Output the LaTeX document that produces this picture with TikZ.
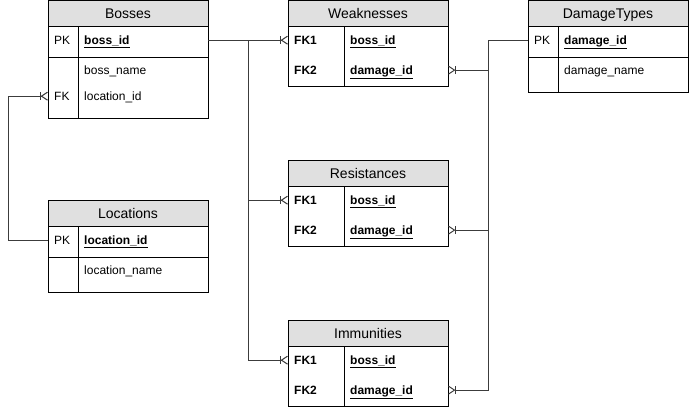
\documentclass[tikz,border=0pt]{standalone}
\usepackage{fontspec}
\setmainfont{Liberation Sans}
\usetikzlibrary{arrows.meta}
\definecolor{headgray}{HTML}{E0E0E0}
\definecolor{linkgray}{HTML}{3C3C3C}
\tikzset{
  entity/.style={draw, line width=1pt, minimum width=160pt, inner sep=0pt, outer sep=0pt, anchor=north west},
  header/.style={entity, fill=headgray, minimum height=26pt, text height=10pt, text depth=0pt, font=\fontsize{14}{16}\selectfont},
  cell/.style={anchor=base west, inner sep=0pt, font=\fontsize{12}{14}\selectfont},
  link/.style={draw=linkgray, line width=1pt},
  many/.style={-{Bar[width=8pt,sep=0pt]Straight Barb[reversed,length=6pt,width=8pt]}}
}
\newcommand{\keyname}[1]{\underline{\textbf{#1}}}
\begin{document}
\begin{tikzpicture}[x=1pt, y=-1pt]
\useasboundingbox (0,0) rectangle (689,408);

% Bosses
\node[entity, minimum height=118pt] (bosses) at (48,0) {};
\node[header] (bossesh) at (48,0) {Bosses};
\draw[line width=1pt] (48,57) -- (208,57);
\draw[line width=1pt] (78,26) -- (78,118);
\node[cell] (bpk) at (54,44.3) {PK};
\node[cell] (bid) at (84,44.3) {\keyname{boss\_id}};
\node[cell] (bname) at (84,74.3) {boss\_name};
\node[cell] (bfk) at (54,100.3) {FK};
\node[cell] (bloc) at (84,100.3) {location\_id};

% Locations
\node[entity, minimum height=92pt] (locations) at (48,200) {};
\node[header] (locationsh) at (48,200) {Locations};
\draw[line width=1pt] (48,257) -- (208,257);
\draw[line width=1pt] (78,226) -- (78,292);
\node[cell] (lpk) at (54,244.3) {PK};
\node[cell] (lid) at (84,244.3) {\keyname{location\_id}};
\node[cell] (lname) at (84,274.3) {location\_name};

% Weaknesses
\node[entity, minimum height=86pt] (weak) at (288,0) {};
\node[header] (weakh) at (288,0) {Weaknesses};
\draw[line width=1pt] (344,26) -- (344,86);
\node[cell] (wfk1) at (294,44.3) {\textbf{FK1}};
\node[cell] (wboss) at (350,44.3) {\keyname{boss\_id}};
\node[cell] (wfk2) at (294,74.3) {\textbf{FK2}};
\node[cell] (wdmg) at (350,74.3) {\keyname{damage\_id}};

% Resistances
\node[entity, minimum height=86pt] (resist) at (288,160) {};
\node[header] (resisth) at (288,160) {Resistances};
\draw[line width=1pt] (344,186) -- (344,246);
\node[cell] (rfk1) at (294,204.3) {\textbf{FK1}};
\node[cell] (rboss) at (350,204.3) {\keyname{boss\_id}};
\node[cell] (rfk2) at (294,234.3) {\textbf{FK2}};
\node[cell] (rdmg) at (350,234.3) {\keyname{damage\_id}};

% Immunities
\node[entity, minimum height=86pt] (immune) at (288,320) {};
\node[header] (immuneh) at (288,320) {Immunities};
\draw[line width=1pt] (344,346) -- (344,406);
\node[cell] (ifk1) at (294,364.3) {\textbf{FK1}};
\node[cell] (iboss) at (350,364.3) {\keyname{boss\_id}};
\node[cell] (ifk2) at (294,394.3) {\textbf{FK2}};
\node[cell] (idmg) at (350,394.3) {\keyname{damage\_id}};

% DamageTypes
\node[entity, minimum height=92pt] (dtypes) at (528,0) {};
\node[header] (dtypesh) at (528,0) {DamageTypes};
\draw[line width=1pt] (528,57) -- (688,57);
\draw[line width=1pt] (558,26) -- (558,92);
\node[cell] (dpk) at (534,44.3) {PK};
\node[cell] (did) at (564,44.3) {\keyname{damage\_id}};
\node[cell] (dname) at (564,74.3) {damage\_name};

% relations
\draw[link, many] (locations.west |- lpk) -- ++(-40,0) |- (bosses.west |- bfk);
\draw[link, many] (bosses.east |- bpk) -- ++(40,0) |- (weak.west |- wfk1);
\draw[link, many] (bosses.east |- bpk) -- ++(40,0) |- (resist.west |- rfk1);
\draw[link, many] (bosses.east |- bpk) -- ++(40,0) |- (immune.west |- ifk1);
\draw[link, many] (dtypes.west |- dpk) -- ++(-40,0) |- (weak.east |- wfk2);
\draw[link, many] (dtypes.west |- dpk) -- ++(-40,0) |- (resist.east |- rfk2);
\draw[link, many] (dtypes.west |- dpk) -- ++(-40,0) |- (immune.east |- ifk2);
\end{tikzpicture}
\end{document}
